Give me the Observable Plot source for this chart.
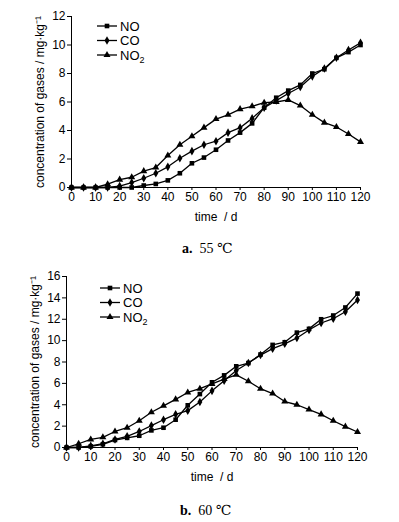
<!DOCTYPE html>
<html><head><meta charset="utf-8">
<script src="https://cdn.jsdelivr.net/npm/d3@7"></script>
<script src="https://cdn.jsdelivr.net/npm/@observablehq/plot@0.6"></script>
<style>
body{margin:0;background:#fff;}
#wrap{position:relative;width:399px;height:522px;background:#fff;font-family:"Liberation Sans",Arial,sans-serif;}
.panel{position:absolute;left:0;}
.cap{position:absolute;left:0;width:399px;font-family:"Liberation Serif","DejaVu Serif",serif;font-size:14px;color:#000;white-space:pre;}
.cap b{font-weight:bold;}
</style></head><body><div id="wrap"></div>
<script>
// ---- data ----
const days = [0,5,10,15,20,25,30,35,40,45,50,55,60,65,70,75,80,85,90,95,100,105,110,115,120];
const gases = ["NO","CO","NO₂"];
const xTicks = [0,10,20,30,40,50,60,70,80,90,100,110,120];
const yTicksA = [0,2,4,6,8,10,12];
const yTicksB = [0,2,4,6,8,10,12,14,16];

// panel a: 55 ℃
const noA  = [0,0,0,0,0,0,0.14,0.25,0.5,1.0,1.7,2.1,2.65,3.3,3.85,4.5,5.6,6.3,6.8,7.2,8.0,8.3,9.1,9.5,10.0];
const coA  = [0,0,0,0,0.1,0.35,0.65,1.0,1.45,2.05,2.55,3.0,3.25,3.85,4.2,4.85,5.6,6.1,6.6,7.05,7.8,8.35,9.1,9.65,10.15];
const no2A = [0,0,0,0.23,0.55,0.72,1.15,1.4,2.25,3.0,3.6,4.2,4.8,5.1,5.5,5.7,5.95,6.0,6.15,5.75,5.1,4.55,4.25,3.75,3.2];

// panel b: 60 ℃
const noB  = [0,0,0.1,0.3,0.7,0.9,1.1,1.6,1.85,2.6,3.95,5.0,6.1,6.75,7.6,7.9,8.7,9.6,9.85,10.75,11.1,12.0,12.35,13.1,14.4];
const coB  = [0,0,0.15,0.35,0.75,1.05,1.5,2.05,2.6,3.1,3.45,4.25,5.3,6.25,7.2,7.9,8.65,9.25,9.7,10.25,11.0,11.65,12.05,12.7,13.8];
const no2B = [0,0.35,0.75,0.95,1.5,1.85,2.5,3.3,3.9,4.5,5.15,5.5,5.95,6.4,6.8,6.2,5.5,5.05,4.3,4.0,3.55,3.1,2.5,1.95,1.45];

const yLabel = "concentration of gases / mg·kg⁻¹";
const xLabel = "time  / d";
const symbols = ["square","diamond","triangle"];
const d3sym = [d3.symbolSquare, d3.symbolDiamond, d3.symbolTriangle];
const R = 2.6;

function rows(arrs){
  const out=[];
  arrs.forEach((a,k)=>a.forEach((v,i)=>out.push({day:days[i],value:v,gas:gases[k]})));
  return out;
}

function panel(data, yMax, yTicks, ml, mr, legendX, legendY){
  const svg = Plot.plot({
    width:399, height:230,
    marginLeft:ml, marginRight:mr, marginTop:16, marginBottom:43,
    style:{fontFamily:"Liberation Sans, Arial, sans-serif", fontSize:"12px", color:"#000", background:"transparent", overflow:"visible"},
    x:{domain:[0,120]},
    y:{domain:[0,yMax]},
    symbol:{domain:gases, range:symbols},
    marks:[
      Plot.axisX({ticks:xTicks, tickSize:3, tickPadding:2, label:xLabel, labelAnchor:"center", labelOffset:33, labelArrow:"none"}),
      Plot.axisY({ticks:yTicks, tickSize:4, tickPadding:2, label:yLabel, labelAnchor:"center", labelOffset:36, labelArrow:"none"}),
      Plot.ruleX([0],{stroke:"#000"}),
      Plot.ruleY([0],{stroke:"#000"}),
      Plot.line(data,{x:"day",y:"value",z:"gas",stroke:"#000",strokeWidth:1.3}),
      Plot.dot(data,{x:"day",y:"value",symbol:"gas",fill:"#000",stroke:"none",r:R})
    ]
  });
  const g = d3.select(svg).append("g").attr("transform",`translate(${legendX},${legendY})`)
    .attr("text-anchor","start")
    .style("font-family","Liberation Sans, Arial, sans-serif").style("font-size","13px");
  gases.forEach((name,k)=>{
    const row = g.append("g").attr("transform",`translate(0,${k*14.5})`);
    row.append("line").attr("x1",0).attr("x2",20).attr("y1",0).attr("y2",0).attr("stroke","#000").attr("stroke-width",1.3);
    row.append("path").attr("d",d3.symbol().type(d3sym[k]).size(Math.PI*R*R)()).attr("transform","translate(10,0)").attr("fill","#000");
    const t = row.append("text").attr("x",23).attr("dy","0.36em").attr("fill","#000").attr("text-anchor","start");
    if(k===2){ t.append("tspan").text("NO"); t.append("tspan").attr("font-size","9px").attr("dy","3").text("2"); }
    else t.text(name);
  });
  return svg;
}

const wrap = document.getElementById("wrap");
const pa = document.createElement("div"); pa.className="panel"; pa.style.top="0px";
pa.appendChild(panel(rows([noA,coA,no2A]),12,yTicksA,71,39,97,26));
wrap.appendChild(pa);
const ca = document.createElement("div"); ca.className="cap"; ca.style.top="240px";
ca.innerHTML = '<span style="position:absolute;left:182px"><b>a.</b>  55 ℃</span>';
wrap.appendChild(ca);

const pb = document.createElement("div"); pb.className="panel"; pb.style.top="260px";
pb.appendChild(panel(rows([noB,coB,no2B]),16,yTicksB,66,42,100,28));
wrap.appendChild(pb);
const cb = document.createElement("div"); cb.className="cap"; cb.style.top="502px";
cb.innerHTML = '<span style="position:absolute;left:180px"><b>b.</b>  60 ℃</span>';
wrap.appendChild(cb);
</script></body></html>
